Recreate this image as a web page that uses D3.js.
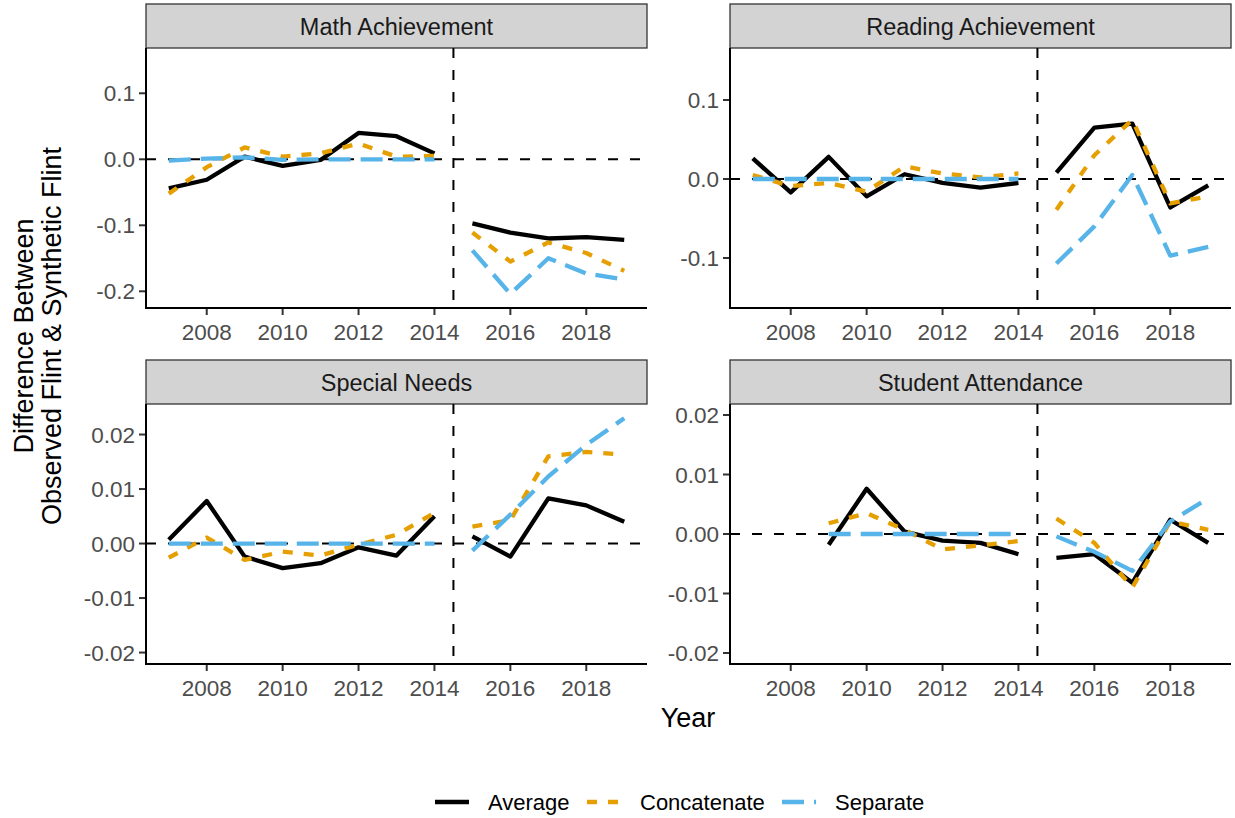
<!DOCTYPE html>
<html lang="en">
<head>
    <meta charset="UTF-8">
    <title>Flint synthetic control</title>
    <script src="https://cdn.jsdelivr.net/npm/d3@7"></script>
    <style>
        body { margin: 0; background: #fff; }
        text { font-family: "Liberation Sans", Arial, sans-serif; }
    </style>
</head>
<body>
<svg id="chart" width="1235" height="818"></svg>
<script>
    // years on the x axis, treatment starts after 2014
    var years = [2007, 2008, 2009, 2010, 2011, 2012, 2013, 2014, 2015, 2016, 2017, 2018, 2019];
    var xTicks = [2008, 2010, 2012, 2014, 2016, 2018];
    var cutYear = 2014.5;
    var panelNames = ["Math Achievement", "Reading Achievement", "Special Needs", "Student Attendance"];
    var seriesNames = ["Average", "Concatenate", "Separate"];
    var seriesColors = ["#000000", "#E69F00", "#56B4E9"];
    var seriesDash = [null, "10,11", "22,10"];

    // Math Achievement
    var mathAverage     = [-0.044, -0.031, 0.004, -0.010, -0.001, 0.040, 0.035, 0.009, -0.097, -0.111, -0.120, -0.118, -0.122];
    var mathConcatenate = [-0.052, -0.012, 0.018, 0.004, 0.009, 0.024, 0.004, 0.005, -0.111, -0.155, -0.126, -0.142, -0.169];
    var mathSeparate    = [-0.002, 0.001, 0.003, -0.001, 0.000, 0.000, 0.000, 0.000, -0.138, -0.204, -0.150, -0.173, -0.182];
    // Reading Achievement
    var readAverage     = [0.026, -0.017, 0.028, -0.022, 0.006, -0.005, -0.011, -0.005, 0.008, 0.065, 0.070, -0.036, -0.008];
    var readConcatenate = [0.005, -0.009, -0.005, -0.016, 0.016, 0.007, 0.002, 0.007, -0.039, 0.030, 0.075, -0.031, -0.022];
    var readSeparate    = [0.000, 0.000, 0.000, 0.000, 0.000, 0.000, 0.000, 0.000, -0.107, -0.060, 0.005, -0.097, -0.086];
    // Special Needs
    var specAverage     = [0.0007, 0.0078, -0.0024, -0.0045, -0.0036, -0.0007, -0.0022, 0.0050, 0.0013, -0.0024, 0.0083, 0.0070, 0.0040];
    var specConcatenate = [-0.0026, 0.0011, -0.0030, -0.0015, -0.0022, -0.0002, 0.0016, 0.0056, 0.0031, 0.0043, 0.0160, 0.0168, 0.0163];
    var specSeparate    = [0.0000, 0.0000, 0.0000, 0.0000, 0.0000, 0.0000, 0.0000, 0.0000, -0.0013, 0.0053, 0.0123, 0.0181, 0.0230];
    // Student Attendance
    var attAverage      = [null, null, -0.0018, 0.0076, 0.0004, -0.0011, -0.0015, -0.0034, -0.0040, -0.0034, -0.0082, 0.0024, -0.0015];
    var attConcatenate  = [null, null, 0.0018, 0.0035, 0.0007, -0.0026, -0.0019, -0.0012, 0.0026, -0.0015, -0.0090, 0.0021, 0.0007];
    var attSeparate     = [null, null, 0.0000, 0.0000, 0.0000, 0.0000, 0.0000, 0.0000, -0.0004, -0.0030, -0.0062, 0.0021, 0.0060];

    // y ticks and limits per panel (free y scales)
    var mathTicks = [0.1, 0.0, -0.1, -0.2];
    var readTicks = [0.1, 0.0, -0.1];
    var specTicks = [0.02, 0.01, 0.00, -0.01, -0.02];
    var attTicks  = [0.02, 0.01, 0.00, -0.01, -0.02];
    var mathLimits = [-0.2253, 0.1686];
    var readLimits = [-0.1633, 0.1658];
    var specLimits = [-0.0221, 0.0256];
    var attLimits  = [-0.02185, 0.02185];

    var panels = [
        {name: panelNames[0], series: [mathAverage, mathConcatenate, mathSeparate], ticks: mathTicks, limits: mathLimits, fmt: ".1f", col: 0, row: 0},
        {name: panelNames[1], series: [readAverage, readConcatenate, readSeparate], ticks: readTicks, limits: readLimits, fmt: ".1f", col: 1, row: 0},
        {name: panelNames[2], series: [specAverage, specConcatenate, specSeparate], ticks: specTicks, limits: specLimits, fmt: ".2f", col: 0, row: 1},
        {name: panelNames[3], series: [attAverage, attConcatenate, attSeparate], ticks: attTicks, limits: attLimits, fmt: ".2f", col: 1, row: 1}
    ];

    var svg = d3.select("#chart");
    var colX = [146, 730];
    var rowY = [4, 360];
    var panelW = 501, stripH = 44, panelH = 260;
    var tickLen = 7;

    panels.forEach(function (p) {
        var x0 = colX[p.col];
        var top = rowY[p.row];
        var y0 = top + stripH;
        var g = svg.append("g");

        var x = d3.scaleLinear().domain([2006.4, 2019.6]).range([x0, x0 + panelW]);
        var y = d3.scaleLinear().domain(p.limits).range([y0 + panelH, y0]);

        // strip
        g.append("rect")
            .attr("x", x0).attr("y", top)
            .attr("width", panelW).attr("height", stripH)
            .attr("fill", "#D3D3D3").attr("stroke", "#333333").attr("stroke-width", 1.3);
        g.append("text")
            .attr("x", x0 + panelW / 2).attr("y", top + stripH / 2 + 8.5)
            .attr("text-anchor", "middle")
            .attr("font-size", 23.5).attr("fill", "#1A1A1A")
            .text(p.name);

        // reference lines
        g.append("line")
            .attr("x1", x0).attr("x2", x0 + panelW)
            .attr("y1", y(0)).attr("y2", y(0))
            .attr("stroke", "#000").attr("stroke-width", 2).attr("stroke-dasharray", "10,12");
        g.append("line")
            .attr("x1", x(cutYear)).attr("x2", x(cutYear))
            .attr("y1", y0).attr("y2", y0 + panelH)
            .attr("stroke", "#000").attr("stroke-width", 2).attr("stroke-dasharray", "10,12");

        // series, one path before and one after the cut
        var line = d3.line()
            .defined(function (d) { return d.v !== null; })
            .x(function (d) { return x(d.year); })
            .y(function (d) { return y(d.v); });

        p.series.forEach(function (vals, si) {
            var pts = years.map(function (yr, i) { return {year: yr, v: vals[i]}; });
            var parts = [
                pts.filter(function (d) { return d.year < cutYear && d.v !== null; }),
                pts.filter(function (d) { return d.year > cutYear && d.v !== null; })
            ];
            parts.forEach(function (part) {
                g.append("path")
                    .datum(part)
                    .attr("d", line)
                    .attr("fill", "none")
                    .attr("stroke", seriesColors[si])
                    .attr("stroke-width", 4.3)
                    .attr("stroke-linejoin", "round")
                    .attr("stroke-dasharray", seriesDash[si]);
            });
        });

        // axes
        var fmt = d3.format(p.fmt);
        var yAxis = g.append("g");
        yAxis.selectAll("line.tick")
            .data(p.ticks).enter().append("line")
            .attr("x1", x0 - tickLen).attr("x2", x0)
            .attr("y1", function (d) { return y(d); }).attr("y2", function (d) { return y(d); })
            .attr("stroke", "#333").attr("stroke-width", 2);
        yAxis.selectAll("text")
            .data(p.ticks).enter().append("text")
            .attr("x", x0 - tickLen - 4)
            .attr("y", function (d) { return y(d); })
            .attr("dy", "0.36em")
            .attr("text-anchor", "end")
            .attr("font-size", 22.5).attr("fill", "#4D4D4D")
            .text(function (d) { return fmt(d).replace("\u2212", "-"); });
        g.append("line")
            .attr("x1", x0).attr("x2", x0)
            .attr("y1", y0).attr("y2", y0 + panelH + 1)
            .attr("stroke", "#000").attr("stroke-width", 2);

        var xAxis = g.append("g");
        xAxis.selectAll("line")
            .data(xTicks).enter().append("line")
            .attr("x1", function (d) { return x(d); }).attr("x2", function (d) { return x(d); })
            .attr("y1", y0 + panelH).attr("y2", y0 + panelH + tickLen)
            .attr("stroke", "#333").attr("stroke-width", 2);
        xAxis.selectAll("text")
            .data(xTicks).enter().append("text")
            .attr("x", function (d) { return x(d); })
            .attr("y", y0 + panelH + 32)
            .attr("text-anchor", "middle")
            .attr("font-size", 22.5).attr("fill", "#4D4D4D")
            .text(function (d) { return d; });
        g.append("line")
            .attr("x1", x0 - 1).attr("x2", x0 + panelW)
            .attr("y1", y0 + panelH).attr("y2", y0 + panelH)
            .attr("stroke", "#000").attr("stroke-width", 2);
    });

    // axis titles
    svg.append("text")
        .attr("x", 688).attr("y", 727)
        .attr("text-anchor", "middle")
        .attr("font-size", 27).attr("fill", "#000")
        .text("Year");
    var yTitle = svg.append("text")
        .attr("transform", "translate(0,336) rotate(-90)")
        .attr("text-anchor", "middle")
        .attr("font-size", 27).attr("fill", "#000");
    yTitle.append("tspan").attr("x", 0).attr("y", 33).text("Difference Between");
    yTitle.append("tspan").attr("x", 0).attr("y", 61).text("Observed Flint & Synthetic Flint");

    // legend
    var legendKeyX = [435, 587, 782];
    var legendTextX = [488, 640, 835];
    var legY = 802;
    var legend = svg.append("g");
    seriesNames.forEach(function (name, i) {
        legend.append("line")
            .attr("x1", legendKeyX[i]).attr("x2", legendKeyX[i] + 34)
            .attr("y1", legY).attr("y2", legY)
            .attr("stroke", seriesColors[i]).attr("stroke-width", 4.3)
            .attr("stroke-dasharray", seriesDash[i]);
        legend.append("text")
            .attr("x", legendTextX[i]).attr("y", legY + 8)
            .attr("font-size", 22).attr("fill", "#000")
            .text(name);
    });
</script>
</body>
</html>
